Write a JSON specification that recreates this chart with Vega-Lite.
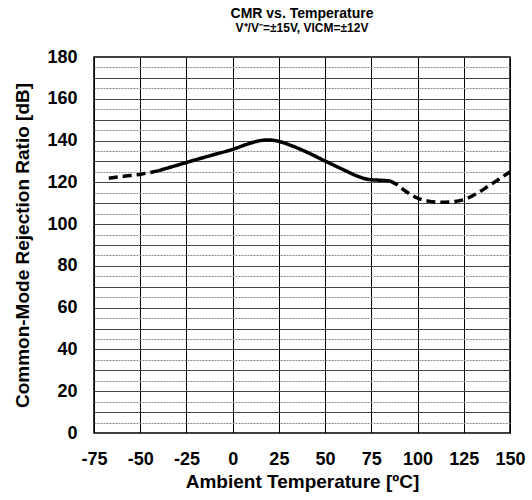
{
  "$schema": "https://vega.github.io/schema/vega-lite/v6.json",
  "autosize": "none",
  "width": 416,
  "height": 376,
  "padding": {"left": 94, "top": 57, "right": 22, "bottom": 67},
  "background": "white",
  "config": {
    "font": "Liberation Sans",
    "view": {"stroke": "black", "strokeWidth": 1.5},
    "axis": {"labelFont": "Liberation Sans", "titleFont": "Liberation Sans", "labelFontWeight": "bold", "titleFontWeight": "bold", "labelFontSize": 18, "titleFontSize": 19, "labelColor": "black", "titleColor": "black", "domain": false, "ticks": false}
  },
  "title": {
    "text": "CMR vs. Temperature",
    "subtitle": "V⁺/V⁻=±15V, VICM=±12V",
    "anchor": "middle",
    "fontSize": 14,
    "fontWeight": "bold",
    "subtitleFontSize": 12,
    "subtitleFontWeight": "bold",
    "subtitleColor": "black",
    "color": "black",
    "offset": 14,
    "subtitlePadding": 2
  },
  "data": {
    "values": [
      {"t": -67, "cmr": 122.0, "seg": "a", "style": "dashed"},
      {"t": -58, "cmr": 123.0, "seg": "a", "style": "dashed"},
      {"t": -49, "cmr": 124.0, "seg": "a", "style": "dashed"},
      {"t": -40, "cmr": 125.6, "seg": "a", "style": "dashed"},
      {"t": -40, "cmr": 125.6, "seg": "b", "style": "solid"},
      {"t": -30, "cmr": 128.2, "seg": "b", "style": "solid"},
      {"t": -20, "cmr": 130.8, "seg": "b", "style": "solid"},
      {"t": -10, "cmr": 133.3, "seg": "b", "style": "solid"},
      {"t": 0, "cmr": 135.8, "seg": "b", "style": "solid"},
      {"t": 8, "cmr": 138.3, "seg": "b", "style": "solid"},
      {"t": 14, "cmr": 139.8, "seg": "b", "style": "solid"},
      {"t": 19, "cmr": 140.3, "seg": "b", "style": "solid"},
      {"t": 25, "cmr": 139.6, "seg": "b", "style": "solid"},
      {"t": 32, "cmr": 137.5, "seg": "b", "style": "solid"},
      {"t": 40, "cmr": 134.5, "seg": "b", "style": "solid"},
      {"t": 50, "cmr": 130.2, "seg": "b", "style": "solid"},
      {"t": 60, "cmr": 126.0, "seg": "b", "style": "solid"},
      {"t": 68, "cmr": 122.8, "seg": "b", "style": "solid"},
      {"t": 74, "cmr": 121.3, "seg": "b", "style": "solid"},
      {"t": 80, "cmr": 121.0, "seg": "b", "style": "solid"},
      {"t": 85, "cmr": 120.7, "seg": "b", "style": "solid"},
      {"t": 85, "cmr": 120.7, "seg": "c", "style": "dashed"},
      {"t": 89, "cmr": 118.8, "seg": "c", "style": "dashed"},
      {"t": 94, "cmr": 115.5, "seg": "c", "style": "dashed"},
      {"t": 100, "cmr": 112.4, "seg": "c", "style": "dashed"},
      {"t": 106, "cmr": 111.0, "seg": "c", "style": "dashed"},
      {"t": 113, "cmr": 110.5, "seg": "c", "style": "dashed"},
      {"t": 120, "cmr": 110.8, "seg": "c", "style": "dashed"},
      {"t": 126, "cmr": 112.0, "seg": "c", "style": "dashed"},
      {"t": 132, "cmr": 114.6, "seg": "c", "style": "dashed"},
      {"t": 138, "cmr": 118.0, "seg": "c", "style": "dashed"},
      {"t": 144, "cmr": 121.5, "seg": "c", "style": "dashed"},
      {"t": 150, "cmr": 125.0, "seg": "c", "style": "dashed"}
    ]
  },
  "mark": {"type": "line", "color": "black", "strokeWidth": 3.5, "interpolate": "monotone", "clip": true},
  "encoding": {
    "x": {
      "field": "t", "type": "quantitative",
      "scale": {"domain": [-75, 150], "nice": false, "zero": false},
      "axis": {
        "title": "Ambient Temperature [ºC]",
        "values": [-75, -50, -25, 0, 25, 50, 75, 100, 125, 150],
        "labelExpr": "'' + datum.value",
        "labelFlush": false,
        "labelOverlap": false,
        "labelPadding": 17,
        "titlePadding": 4,
        "gridColor": "black",
        "gridOpacity": 1,
        "gridWidth": 1
      }
    },
    "y": {
      "field": "cmr", "type": "quantitative",
      "scale": {"domain": [0, 180], "nice": false},
      "axis": {
        "title": "Common-Mode Rejection Ratio [dB]",
        "values": [0,5,10,15,20,25,30,35,40,45,50,55,60,65,70,75,80,85,90,95,100,105,110,115,120,125,130,135,140,145,150,155,160,165,170,175,180],
        "labelExpr": "datum.value % 20 === 0 ? datum.label : ''",
        "labelOverlap": false,
        "labelPadding": 17,
        "titlePadding": 14,
        "gridOpacity": 1,
        "gridColor": {"condition": {"test": "datum.value % 10 === 0", "value": "#444"}, "value": "#888"},
        "gridDash": {"condition": {"test": "datum.value % 10 === 0", "value": []}, "value": [2, 1]},
        "gridWidth": 1
      }
    },
    "detail": {"field": "seg"},
    "strokeDash": {
      "field": "style", "type": "nominal",
      "scale": {"domain": ["solid", "dashed"], "range": [[1, 0], [9, 5]]},
      "legend": null
    }
  }
}
